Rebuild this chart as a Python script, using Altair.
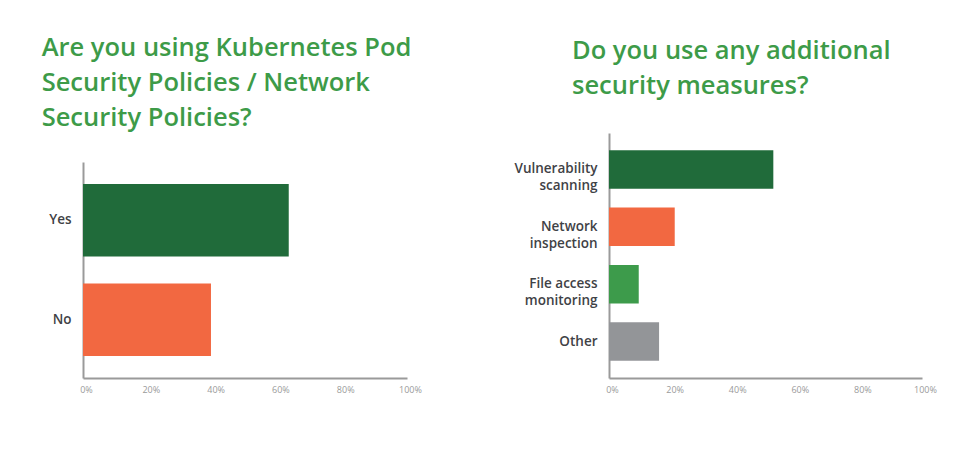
import altair as alt
import pandas as pd

# Left chart data
left_cats = ["Yes", "No"]
left_vals = [63.5, 39.5]
left_colors = ["#206b3a", "#f26841"]

# Right chart data
right_cats = ["Vulnerability|scanning", "Network|inspection", "File access|monitoring", "Other"]
right_vals = [52.5, 21, 9.5, 16]
right_colors = ["#206b3a", "#f26841", "#3d9b4b", "#939598"]

tick_values = [0, 20, 40, 60, 80, 100]

left_title = ["Are you using Kubernetes Pod", "Security Policies / Network", "Security Policies?"]
right_title = ["Do you use any additional", "security measures?"]

TITLE_COLOR = "#3d9b48"
FONT = "Open Sans"

df_left = pd.DataFrame({"cat": left_cats, "val": left_vals})
df_right = pd.DataFrame({"cat": right_cats, "val": right_vals})


def x_axis():
    return alt.Axis(
        values=tick_values,
        labelExpr="datum.value + '%'",
        title=None,
        grid=False,
        ticks=False,
        domainColor="#9a9a9a",
        domainWidth=2,
        labelColor="#9a9a9a",
        labelFontSize=9,
        labelFont=FONT,
        labelPadding=7,
        labelFlush=False,
        labelOffset=3,
    )


def y_axis():
    return alt.Axis(
        title=None,
        grid=False,
        ticks=False,
        domainColor="#9a9a9a",
        domainWidth=2,
        labelColor="#3f4246",
        labelFontSize=13.5,
        labelFontWeight=600,
        labelFont=FONT,
        labelPadding=12,
        labelExpr="split(datum.label, '|')",
        labelLineHeight=17,
    )


left = alt.Chart(df_left).mark_bar().encode(
    y=alt.Y("cat:N", sort=left_cats,
            scale=alt.Scale(paddingInner=0.27, paddingOuter=0.22, range=[29, 245]),
            axis=y_axis()),
    x=alt.X("val:Q", scale=alt.Scale(domain=[0, 100]), axis=x_axis()),
    color=alt.Color("cat:N", scale=alt.Scale(domain=left_cats, range=left_colors), legend=None),
).properties(
    width=324, height=245,
    title=alt.Title(left_title, anchor="start", color=TITLE_COLOR, font=FONT,
                    fontSize=25.5, fontWeight=600, lineHeight=35, offset=2, dx=-7),
)

right = alt.Chart(df_right).mark_bar().encode(
    y=alt.Y("cat:N", sort=right_cats,
            scale=alt.Scale(paddingInner=0.33, paddingOuter=0.3),
            axis=y_axis()),
    x=alt.X("val:Q", scale=alt.Scale(domain=[0, 100]), axis=x_axis()),
    color=alt.Color("cat:N", scale=alt.Scale(domain=right_cats, range=right_colors), legend=None),
).properties(
    width=313, height=245,
    title=alt.Title(right_title, anchor="start", color=TITLE_COLOR, font=FONT,
                    fontSize=25.5, fontWeight=600, lineHeight=35, offset=34, dx=58),
)

chart = alt.hconcat(left, right, spacing=91).resolve_scale(
    color="independent"
).configure_view(stroke=None).properties(
    padding={"left": 33, "top": 27, "right": 5, "bottom": 5}
)

chart.save("out.html", embed_options={"renderer": "svg", "actions": False})
